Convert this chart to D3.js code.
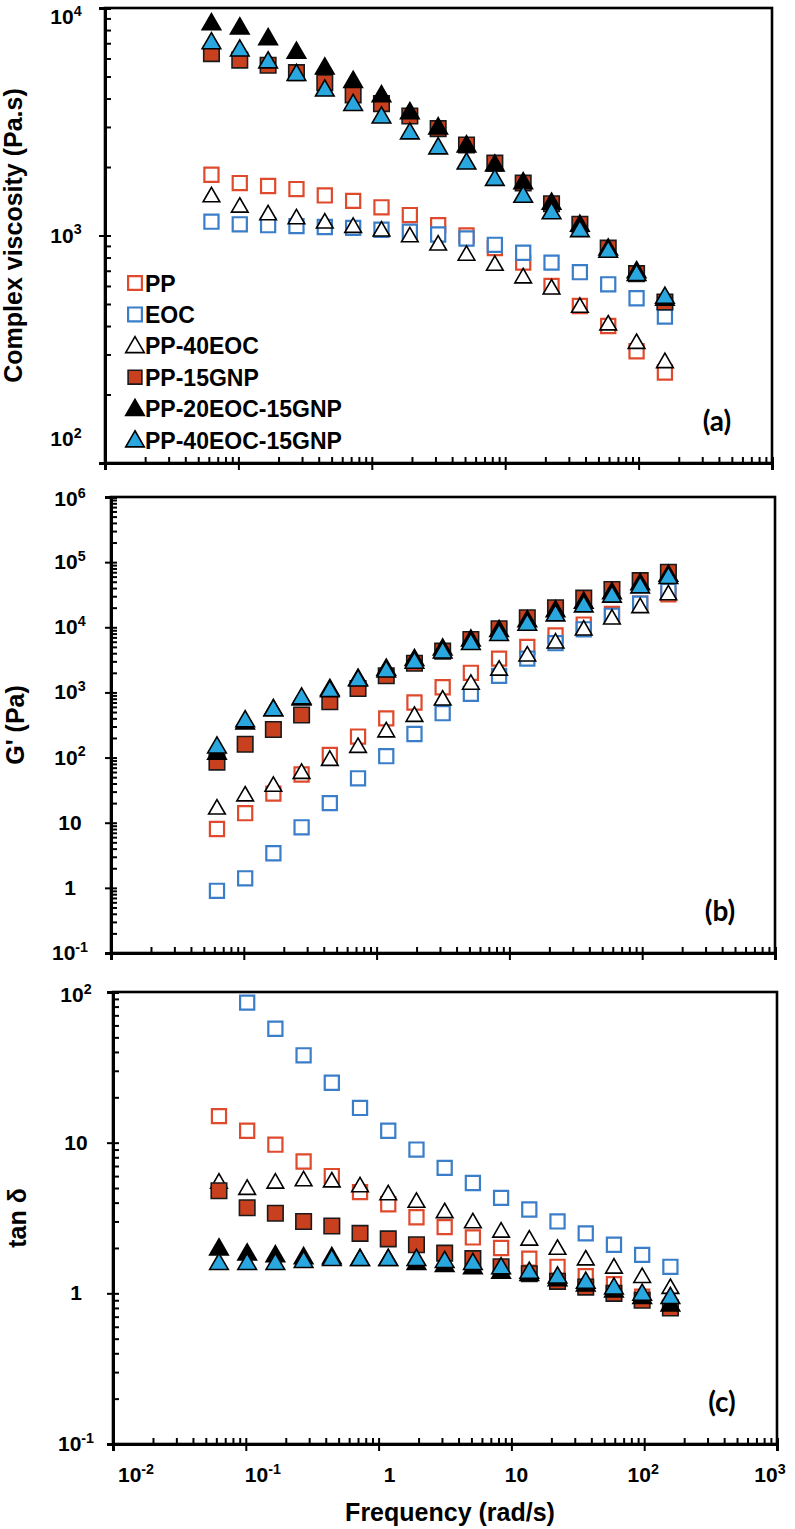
<!DOCTYPE html>
<html><head><meta charset="utf-8">
<script src="https://cdn.jsdelivr.net/npm/d3@7"></script>
<style>body{margin:0;background:#fff}svg{display:block}</style>
</head><body><svg id="c" width="795" height="1529"></svg>
<script>
// ---------- data ----------
const freq = [0.0628, 0.1024, 0.167, 0.2724, 0.4443, 0.7247, 1.182, 1.928, 3.144, 5.128, 8.364, 13.64, 22.25, 36.29, 59.19, 96.54, 157.5];
const seriesNames = ["PP", "EOC", "PP-40EOC", "PP-15GNP", "PP-20EOC-15GNP", "PP-40EOC-15GNP"];

// complex viscosity (Pa.s)
const etaPP      = [1850, 1700, 1650, 1600, 1500, 1420, 1330, 1230, 1110, 1000, 880, 760, 600, 490, 400, 310, 250];
const etaEOC     = [1150, 1120, 1110, 1100, 1090, 1080, 1060, 1040, 1010, 970, 910, 840, 760, 690, 610, 530, 440];
const etaPP40    = [1500, 1350, 1250, 1200, 1150, 1100, 1060, 1000, 920, 830, 750, 660, 590, 490, 410, 340, 280];
const etaGNP     = [6300, 5900, 5600, 5200, 4700, 4150, 3800, 3350, 2950, 2500, 2080, 1700, 1380, 1120, 880, 680, 510];
const etaPP20GNP = [8600, 8250, 7400, 6450, 5500, 4800, 4150, 3500, 3000, 2500, 2060, 1720, 1400, 1120, 880, 700, 530];
const etaPP40GNP = [7100, 6600, 5850, 5150, 4400, 3800, 3350, 2850, 2450, 2100, 1780, 1500, 1270, 1060, 860, 680, 540];

// storage modulus G' (Pa)
const gPP      = [8, 14, 28, 55, 110, 210, 400, 700, 1200, 2000, 3300, 5000, 7500, 11000, 16000, 23000, 32000];
const gEOC     = [0.9, 1.4, 3.4, 8.5, 20, 48, 105, 230, 480, 950, 1800, 3300, 5700, 9300, 15000, 23000, 36000];
const gPP40    = [17, 27, 38, 60, 95, 150, 260, 450, 800, 1400, 2300, 3800, 6000, 9500, 14000, 21000, 33000];
const gGNP     = [85, 160, 270, 450, 720, 1150, 1800, 2800, 4300, 6500, 9500, 14000, 20000, 28000, 38000, 52000, 70000];
const gPP20GNP = [120, 350, 560, 820, 1150, 1650, 2350, 3300, 4800, 6600, 9200, 13000, 18500, 25000, 35000, 48000, 65000];
const gPP40GNP = [150, 380, 560, 850, 1100, 1600, 2200, 3000, 4300, 5800, 8000, 11500, 16000, 22000, 31000, 43000, 60000];

// tan delta
const tPP      = [15, 12, 9.7, 7.5, 6.0, 4.7, 3.9, 3.2, 2.75, 2.35, 2.0, 1.7, 1.5, 1.3, 1.15, 0.95, 0.8];
const tEOC     = [null, 85, 57, 38, 25, 17, 12, 9, 6.8, 5.4, 4.3, 3.6, 3.0, 2.5, 2.1, 1.8, 1.5];
const tPP40    = [5.5, 5.0, 5.5, 5.7, 5.6, 5.2, 4.6, 4.1, 3.5, 3.0, 2.6, 2.3, 2.0, 1.7, 1.5, 1.3, 1.1];
const tGNP     = [4.8, 3.7, 3.4, 3.0, 2.8, 2.5, 2.3, 2.1, 1.85, 1.7, 1.5, 1.35, 1.2, 1.1, 1.0, 0.9, 0.8];
const tPP20GNP = [2.0, 1.85, 1.8, 1.75, 1.75, 1.7, 1.7, 1.6, 1.55, 1.5, 1.4, 1.35, 1.25, 1.15, 1.05, 0.95, 0.85];
const tPP40GNP = [1.6, 1.6, 1.6, 1.65, 1.7, 1.7, 1.7, 1.7, 1.65, 1.6, 1.5, 1.4, 1.3, 1.2, 1.1, 1.0, 0.95];

const xTickValues = [0.01, 0.1, 1, 10, 100, 1000];
const xTickLabels = ["10^-2", "10^-1", "1", "10", "10^2", "10^3"];
const aTickValues = [100, 1000, 10000];
const aTickLabels = ["10^2", "10^3", "10^4"];
const bTickValues = [0.1, 1, 10, 100, 1000, 10000, 100000, 1000000];
const bTickLabels = ["10^-1", "1", "10", "10^2", "10^3", "10^4", "10^5", "10^6"];
const cTickValues = [0.1, 1, 10, 100];
const cTickLabels = ["10^-1", "1", "10", "10^2"];

// ---------- styles ----------
const styles = [
  {shape: "square",   fill: "#ffffff", stroke: "#DF4A2D", sw: 2.2, size: 200},
  {shape: "square",   fill: "#ffffff", stroke: "#3A7DC9", sw: 2.2, size: 200},
  {shape: "triangle", fill: "#ffffff", stroke: "#000000", sw: 1.6, size: 120},
  {shape: "square",   fill: "#C9401E", stroke: "#1a1a1a", sw: 1.6, size: 240},
  {shape: "triangle", fill: "#000000", stroke: "#000000", sw: 1.6, size: 150},
  {shape: "triangle", fill: "#2AA7DF", stroke: "#000000", sw: 1.6, size: 150}
];

const svg = d3.select("#c");
const FONT = "'Liberation Sans', Arial, sans-serif";

function sym(s) {
  return d3.symbol().type(s.shape === "square" ? d3.symbolSquare : d3.symbolTriangle).size(s.size)();
}

function addLabel(sel, txt, fs) {
  const parts = txt.split("^");
  sel.append("tspan").text(parts[0]);
  if (parts.length > 1) {
    sel.append("tspan").attr("dy", -fs * 0.40).attr("font-size", fs * 0.68).text(parts[1]);
  }
}

function minorTicks(dom) {
  const out = [];
  const lo = Math.round(Math.log10(dom[0])), hi = Math.round(Math.log10(dom[1]));
  for (let e = lo; e < hi; e++) for (let m = 2; m <= 9; m++) out.push(m * Math.pow(10, e));
  return out;
}

function panel(cfg) {
  const x = d3.scaleLog().domain([0.01, 1000]).range([cfg.left, cfg.right]);
  const y = d3.scaleLog().domain(cfg.ydom).range([cfg.bottom, cfg.top]);
  const g = svg.append("g");

  g.append("rect").attr("x", cfg.left).attr("y", cfg.top)
    .attr("width", cfg.right - cfg.left).attr("height", cfg.bottom - cfg.top)
    .attr("fill", "none").attr("stroke", "#000").attr("stroke-width", 2.6);

  g.append("g").attr("transform", `translate(${cfg.left},0)`)
    .call(d3.axisLeft(y).tickValues(cfg.yt).tickSize(6).tickFormat(""));
  g.append("g").attr("transform", `translate(${cfg.left},0)`)
    .call(d3.axisLeft(y).tickValues(cfg.yt).tickSize(-6).tickFormat(""));
  g.append("g").attr("transform", `translate(${cfg.left},0)`)
    .call(d3.axisLeft(y).tickValues(minorTicks(cfg.ydom)).tickSize(-6).tickFormat(""));
  g.append("g").attr("transform", `translate(0,${cfg.bottom})`)
    .call(d3.axisBottom(x).tickValues(xTickValues).tickSize(7).tickFormat(""));
  g.append("g").attr("transform", `translate(0,${cfg.bottom})`)
    .call(d3.axisBottom(x).tickValues(xTickValues).tickSize(-6).tickFormat(""));
  g.append("g").attr("transform", `translate(0,${cfg.bottom})`)
    .call(d3.axisBottom(x).tickValues(minorTicks([0.01, 1000])).tickSize(-6).tickFormat(""));
  g.selectAll(".domain").attr("stroke-width", 3);
  g.selectAll(".tick line").attr("stroke", "#000").attr("stroke-width", 2);

  const n = cfg.yt.length;
  cfg.yt.forEach((v, i) => {
    let yy = y(v) + 7;
    if (i === 0) yy += cfg.firstShift;
    if (i === n - 1) yy += cfg.lastShift;
    const t = g.append("text").attr("x", cfg.ylabX).attr("y", yy)
      .attr("text-anchor", "middle").attr("font-family", FONT).attr("font-weight", "bold")
      .attr("font-size", 21).attr("fill", "#000");
    addLabel(t, cfg.ytl[i], 21);
  });
  if (cfg.xlabels) {
    const off = d3.scaleLinear().domain([0, xTickValues.length - 1]).range([23, -7]);
    xTickValues.forEach((v, i) => {
      const t = g.append("text").attr("x", x(v) + off(i)).attr("y", cfg.bottom + 38)
        .attr("text-anchor", "middle").attr("font-family", FONT).attr("font-weight", "bold")
        .attr("font-size", 21).attr("fill", "#000");
      addLabel(t, xTickLabels[i], 21);
    });
  }

  g.append("text").attr("transform", `translate(${cfg.titleX},${(cfg.top + cfg.bottom) / 2}) rotate(-90)`)
    .attr("text-anchor", "middle").attr("font-family", FONT).attr("font-weight", "bold")
    .attr("font-size", 25).attr("fill", "#000").text(cfg.title);

  g.append("text").attr("x", cfg.right - 55).attr("y", cfg.bottom - 32)
    .attr("text-anchor", "middle").attr("font-family", "Lato, 'Open Sans', sans-serif").attr("font-weight", "bold")
    .attr("font-size", 28).attr("fill", "#000").text(cfg.tag);

  cfg.series.forEach((vals, si) => {
    const st = styles[si];
    const pts = freq.map((f, i) => [f, vals[i]]).filter(d => d[1] != null);
    g.append("g").selectAll("path").data(pts).join("path")
      .attr("transform", d => `translate(${x(d[0])},${y(d[1]) + (st.shape === "triangle" ? 1.5 : 0)})`)
      .attr("d", sym(st)).attr("fill", st.fill).attr("stroke", st.stroke)
      .attr("stroke-width", st.sw).attr("stroke-linejoin", "miter");
  });
  return {x, y, g};
}

panel({left: 105, right: 772, top: 8, bottom: 463, ydom: [100, 10000],
  yt: aTickValues, ytl: aTickLabels, ylabX: 66, firstShift: -24, lastShift: 9, titleX: 22,
  title: "Complex viscosity (Pa.s)", tag: "(a)", xlabels: false,
  series: [etaPP, etaEOC, etaPP40, etaGNP, etaPP20GNP, etaPP40GNP]});

panel({left: 111, right: 775, top: 497, bottom: 953, ydom: [0.1, 1000000],
  yt: bTickValues, ytl: bTickLabels, ylabX: 70, firstShift: 0, lastShift: 2, titleX: 24,
  title: "G' (Pa)", tag: "(b)", xlabels: false,
  series: [gPP, gEOC, gPP40, gGNP, gPP20GNP, gPP40GNP]});

panel({left: 113, right: 777, top: 992, bottom: 1444, ydom: [0.1, 100],
  yt: cTickValues, ytl: cTickLabels, ylabX: 76, firstShift: 0, lastShift: 3, titleX: 26,
  title: "tan δ", tag: "(c)", xlabels: true,
  series: [tPP, tEOC, tPP40, tGNP, tPP20GNP, tPP40GNP]});

svg.append("text").attr("x", 450).attr("y", 1521).attr("text-anchor", "middle")
  .attr("font-family", FONT).attr("font-weight", "bold").attr("font-size", 25).text("Frequency (rad/s)");

const leg = svg.append("g");
seriesNames.forEach((n, i) => {
  const st = styles[i];
  const yy = 283 + i * 31.4;
  const s2 = Object.assign({}, st, {size: st.shape === "square" ? 190 : 150});
  leg.append("path").attr("transform", `translate(135,${yy + (st.shape === "triangle" ? 1.5 : 0)})`)
    .attr("d", sym(s2)).attr("fill", st.fill).attr("stroke", st.stroke).attr("stroke-width", st.sw);
  leg.append("text").attr("x", 145).attr("y", yy + 8.5).attr("font-family", FONT)
    .attr("font-weight", "bold").attr("font-size", 23).attr("fill", "#000").text(n);
});
</script></body></html>
